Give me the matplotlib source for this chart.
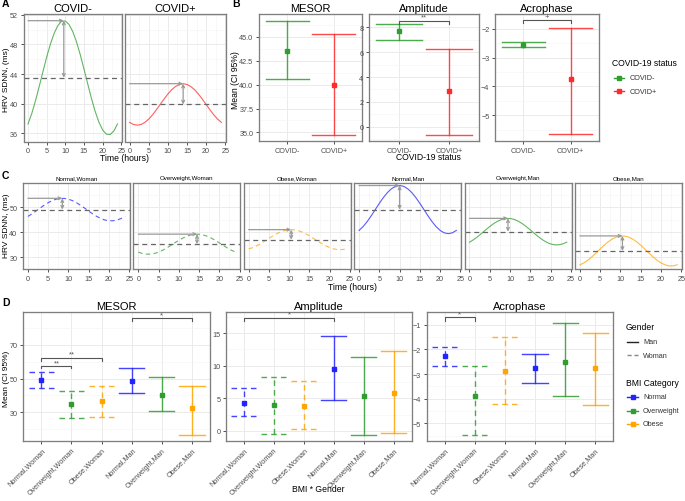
import matplotlib
matplotlib.use("Agg")
import matplotlib.pyplot as plt
from matplotlib.lines import Line2D
from matplotlib.ticker import MultipleLocator, FormatStrFormatter

# ---- panel A: fitted cosinor curves (hourly values)
hours = list(range(25))
covid_neg_curve = [37.27, 38.65, 40.37, 42.30, 44.30, 46.26, 48.03, 49.48, 50.53, 51.11,
                   51.16, 50.69, 49.73, 48.35, 46.63, 44.70, 42.70, 40.74, 38.97, 37.52,
                   36.47, 35.89, 35.84, 36.31, 37.27]
covid_pos_curve = [37.48, 37.20, 37.10, 37.20, 37.48, 37.92, 38.50, 39.18, 39.90, 40.62,
                   41.30, 41.88, 42.32, 42.60, 42.70, 42.60, 42.32, 41.88, 41.30, 40.62,
                   39.90, 39.18, 38.50, 37.92, 37.48]
covid_groups = ["COVID-", "COVID+"]
covid_mesor_line = [43.5, 39.9]
covid_peak = [51.2, 42.7]
covid_peak_time = [9.6, 14.0]

# ---- panel B: means and 95% CI
covid_mesor_mean = [43.5, 39.95]
covid_mesor_lo = [40.6, 34.7]
covid_mesor_hi = [46.7, 45.3]
covid_amp_mean = [7.7, 2.85]
covid_amp_lo = [6.95, -0.7]
covid_amp_hi = [8.3, 6.25]
covid_acro_mean = [-2.55, -3.74]
covid_acro_lo = [-2.63, -5.66]
covid_acro_hi = [-2.46, -1.97]

# ---- panel C: curves by BMI and gender
nw_curve = [46.26, 47.28, 48.41, 49.59, 50.72, 51.74, 52.57, 53.16, 53.46, 53.46, 53.16, 52.57,
            51.74, 50.72, 49.59, 48.41, 47.28, 46.26, 45.43, 44.84, 44.54, 44.54, 44.84, 45.43, 46.26]
ow_curve = [32.03, 31.50, 31.24, 31.24, 31.50, 32.03, 32.76, 33.67, 34.68, 35.72, 36.73, 37.64,
            38.37, 38.90, 39.16, 39.16, 38.90, 38.37, 37.64, 36.73, 35.72, 34.68, 33.67, 32.76, 32.03]
obw_curve = [33.30, 33.83, 34.56, 35.47, 36.48, 37.52, 38.53, 39.44, 40.17, 40.70, 40.96, 40.96,
             40.70, 40.17, 39.44, 38.53, 37.52, 36.48, 35.47, 34.56, 33.83, 33.30, 33.04, 33.04, 33.30]
nm_curve = [40.69, 42.21, 44.20, 46.51, 49.00, 51.49, 53.80, 55.79, 57.31, 58.27, 58.60, 58.27,
            57.31, 55.79, 53.80, 51.49, 49.00, 46.51, 44.20, 42.21, 40.69, 39.73, 39.40, 39.73, 40.69]
om_curve = [36.00, 36.97, 38.17, 39.51, 40.89, 42.23, 43.43, 44.40, 45.10, 45.45, 45.45, 45.10,
            44.40, 43.43, 42.23, 40.89, 39.51, 38.17, 36.97, 36.00, 35.30, 34.95, 34.95, 35.30, 36.00]
obm_curve = [26.96, 27.74, 28.85, 30.20, 31.71, 33.29, 34.80, 36.15, 37.26, 38.04, 38.45, 38.45,
             38.04, 37.26, 36.15, 34.80, 33.29, 31.71, 30.20, 28.85, 27.74, 26.96, 26.55, 26.55, 26.96]
bmi_groups = ["Normal,Woman", "Overweight,Woman", "Obese,Woman",
              "Normal,Man", "Overweight,Man", "Obese,Man"]
bmi_mesor_line = [49.0, 35.2, 37.0, 49.0, 40.2, 32.5]
bmi_peak = [53.5, 39.2, 41.0, 58.6, 45.5, 38.5]
bmi_peak_time = [8.5, 14.5, 10.5, 10.0, 9.5, 10.5]

# ---- panel D: means and 95% CI by BMI * gender
bmi_mesor_mean = [49.2, 34.9, 36.9, 48.8, 40.5, 32.6]
bmi_mesor_lo = [44.3, 26.4, 27.0, 41.7, 31.0, 16.4]
bmi_mesor_hi = [53.8, 42.9, 45.8, 56.2, 51.0, 45.8]
bmi_amp_mean = [4.35, 4.0, 3.8, 9.5, 5.3, 5.9]
bmi_amp_lo = [2.35, -0.46, 0.3, 4.8, -0.57, -0.36]
bmi_amp_hi = [6.6, 8.3, 7.6, 14.5, 11.3, 12.2]
bmi_acro_mean = [-2.28, -3.9, -2.87, -2.76, -2.5, -2.77]
bmi_acro_lo = [-2.69, -5.47, -4.21, -3.38, -3.87, -4.25]
bmi_acro_hi = [-1.89, -2.67, -1.51, -2.2, -0.93, -1.34]

GREEN = "#2e9e2e"
RED = "#ff2a2a"
BLUE = "#2323ff"
ORANGE = "#ffa500"
covid_colors = [GREEN, RED]
bmi_colors = [BLUE, GREEN, ORANGE, BLUE, GREEN, ORANGE]
bmi_styles = ["dashed"] * 3 + ["solid"] * 3
DASH = (0, (4, 3))

plt.rcParams["font.family"] = ["Liberation Sans", "DejaVu Sans"]

W, H = 685, 502
fig = plt.figure(figsize=(W / 100, H / 100), dpi=100)
fig.patch.set_facecolor("white")

TICK_FS = 5.2
LAB_FS = 6.2
TITLE_FS = 8


def px_axes(x0, y0, x1, y1):
    return fig.add_axes([x0 / W, 1 - y1 / H, (x1 - x0) / W, (y1 - y0) / H])


def ftext(x, y, s, **kw):
    kw.setdefault("ha", "center")
    kw.setdefault("va", "center")
    fig.text(x / W, 1 - y / H, s, **kw)


def style(ax):
    ax.set_facecolor("white")
    for s in ax.spines.values():
        s.set_color("#7f7f7f")
        s.set_linewidth(0.95)
    ax.grid(True, which="major", color="#ebebeb", lw=0.7)
    ax.grid(True, which="minor", color="#f4f4f4", lw=0.45)
    ax.set_axisbelow(True)
    ax.tick_params(which="major", length=2.5, width=0.6, color="#333333",
                   labelsize=TICK_FS, labelcolor="#4d4d4d", pad=1.5)
    ax.tick_params(which="minor", length=0)


def cosinor_panel(ax, curve, mesor, peak, tpk, color, ls, ylim, ymaj, ymin):
    style(ax)
    ax.plot(hours, curve, color=color, lw=0.8, alpha=0.75,
            ls=DASH if ls == "dashed" else "-")
    ax.axhline(mesor, color="#666666", lw=0.9, ls=DASH)
    ax.annotate("", xy=(tpk, peak), xytext=(0, peak),
                arrowprops=dict(arrowstyle="->", color="#9a9a9a", lw=0.9,
                                shrinkA=0, shrinkB=0, mutation_scale=5))
    ax.annotate("", xy=(tpk, mesor), xytext=(tpk, peak),
                arrowprops=dict(arrowstyle="<->", color="#9a9a9a", lw=0.9,
                                shrinkA=0, shrinkB=0, mutation_scale=5))
    ax.set_xlim(-1.2, 25.2)
    ax.set_ylim(*ylim)
    ax.xaxis.set_major_locator(MultipleLocator(5))
    ax.xaxis.set_minor_locator(MultipleLocator(2.5))
    ax.yaxis.set_major_locator(MultipleLocator(ymaj))
    ax.yaxis.set_minor_locator(MultipleLocator(ymin))


def ci_panel(ax, means, lo, hi, colors, styles, half):
    style(ax)
    for i, (m, a, b) in enumerate(zip(means, lo, hi)):
        x = i + 1
        ls = DASH if styles[i] == "dashed" else "-"
        ax.plot([x, x], [a, b], color=colors[i], lw=1.0, ls=ls, alpha=0.85)
        ax.plot([x - half, x + half], [a, a], color=colors[i], lw=1.0, ls=ls, alpha=0.85)
        ax.plot([x - half, x + half], [b, b], color=colors[i], lw=1.0, ls=ls, alpha=0.85)
        ax.plot([x], [m], "s", color=colors[i], ms=2.8)
    ax.set_xlim(0.4, len(means) + 0.6)
    ax.set_xticks(range(1, len(means) + 1))


def bracket(ax, x1, x2, y, d, label):
    ax.plot([x1, x1, x2, x2], [y - d, y, y, y - d], color="#555555", lw=0.8)
    ax.text((x1 + x2) / 2, y, label, ha="center", va="bottom", fontsize=5.5,
            color="#555555")


# ================= A =================
covid_curves = [covid_neg_curve, covid_pos_curve]
a_boxes = [(23.5, 15, 122, 142.5), (125, 15, 226, 142.5)]
for i, box in enumerate(a_boxes):
    ax = px_axes(*box)
    cosinor_panel(ax, covid_curves[i], covid_mesor_line[i], covid_peak[i],
                  covid_peak_time[i], covid_colors[i], "solid",
                  (34.9, 52.1), 4, 2)
    ax.set_title(covid_groups[i], fontsize=TITLE_FS, pad=2.5)
    if i > 0:
        ax.tick_params(axis="y", labelleft=False, length=0)
ftext(6, 80, "HRV SDNN, (ms)", rotation=90, fontsize=6)
ftext(125, 158.5, "Time (hours)", fontsize=LAB_FS)

# ================= B =================
b_boxes = [(259, 15, 362, 142), (369, 15, 479, 142), (495, 15, 599, 142)]
b_titles = ["MESOR", "Amplitude", "Acrophase"]
b_means = [covid_mesor_mean, covid_amp_mean, covid_acro_mean]
b_lo = [covid_mesor_lo, covid_amp_lo, covid_acro_lo]
b_hi = [covid_mesor_hi, covid_amp_hi, covid_acro_hi]
b_ylims = [(34.1, 47.4), (-1.16, 9.08), (-5.9, -1.48)]
b_ticks = [(2.5, 1.25), (2, 1), (1, 0.5)]
b_axes = []
for i, box in enumerate(b_boxes):
    ax = px_axes(*box)
    ci_panel(ax, b_means[i], b_lo[i], b_hi[i], covid_colors, ["solid", "solid"], 0.46)
    ax.set_ylim(*b_ylims[i])
    ax.yaxis.set_major_locator(MultipleLocator(b_ticks[i][0]))
    ax.yaxis.set_minor_locator(MultipleLocator(b_ticks[i][1]))
    ax.set_xticklabels(covid_groups)
    ax.set_title(b_titles[i], fontsize=TITLE_FS, pad=2.5)
    b_axes.append(ax)
b_axes[0].yaxis.set_major_formatter(FormatStrFormatter("%.1f"))
bracket(b_axes[1], 1, 2, 8.54, 0.27, "**")
bracket(b_axes[2], 1, 2, -1.69, 0.11, "+")
ftext(236, 80, "Mean (CI 95%)", rotation=90, fontsize=LAB_FS)
ftext(428, 158, "COVID-19 status", fontsize=LAB_FS)

ftext(612, 64, "COVID-19 status", fontsize=LAB_FS, ha="left")
for i, g in enumerate(covid_groups):
    y = 1 - (79 + 13 * i) / H
    fig.add_artist(Line2D([614 / W, 624 / W], [y, y], color=covid_colors[i], lw=1.0))
    fig.add_artist(Line2D([619 / W], [y], marker="s", ms=2.5, color=covid_colors[i]))
    ftext(630, 79 + 13 * i, g, fontsize=5.2, ha="left", color="#333333")

# ================= C =================
bmi_curves = [nw_curve, ow_curve, obw_curve, nm_curve, om_curve, obm_curve]
c_axes = []
for i in range(6):
    x0 = 23 + 110.4 * i
    ax = px_axes(x0, 183.5, x0 + 107, 270)
    cosinor_panel(ax, bmi_curves[i], bmi_mesor_line[i], bmi_peak[i],
                  bmi_peak_time[i], bmi_colors[i], bmi_styles[i],
                  (25.3, 59.8), 10, 5)
    ax.set_yticks([30, 40, 50])
    ax.set_title(bmi_groups[i], fontsize=4.4, pad=2.5)
    if i > 0:
        ax.tick_params(axis="y", labelleft=False, length=0)
    c_axes.append(ax)
ftext(6, 226, "HRV SDNN, (ms)", rotation=90, fontsize=6)
ftext(353, 288, "Time (hours)", fontsize=LAB_FS)

# ================= D =================
d_boxes = [(23.3, 313.3, 210, 441.7), (226, 313.3, 411.7, 441.7), (426.7, 313.3, 613.3, 441.7)]
d_means = [bmi_mesor_mean, bmi_amp_mean, bmi_acro_mean]
d_lo = [bmi_mesor_lo, bmi_amp_lo, bmi_acro_lo]
d_hi = [bmi_mesor_hi, bmi_amp_hi, bmi_acro_hi]
d_ylims = [(13.1, 89.4), (-1.49, 18.2), (-5.7, -0.5)]
d_ticks = [(20, 10), (5, 2.5), (1, 0.5)]
d_axes = []
for i, box in enumerate(d_boxes):
    ax = px_axes(*box)
    ci_panel(ax, d_means[i], d_lo[i], d_hi[i], bmi_colors, bmi_styles, 0.42)
    ax.set_ylim(*d_ylims[i])
    ax.yaxis.set_major_locator(MultipleLocator(d_ticks[i][0]))
    ax.yaxis.set_minor_locator(MultipleLocator(d_ticks[i][1]))
    ax.set_xticklabels(bmi_groups, rotation=45, ha="right", rotation_mode="anchor",
                       fontsize=5.2)
    ax.set_title(b_titles[i], fontsize=TITLE_FS, pad=2.5)
    d_axes.append(ax)
d_axes[0].set_yticks([30, 50, 70])
bracket(d_axes[0], 1, 2, 57.3, 1.2, "**")
bracket(d_axes[0], 1, 3, 62.5, 1.8, "**")
bracket(d_axes[0], 4, 6, 86.0, 1.8, "*")
bracket(d_axes[1], 1, 4, 17.4, 0.55, "*")
bracket(d_axes[2], 1, 2, -0.7, 0.14, "*")
ftext(6, 379, "Mean (CI 95%)", rotation=90, fontsize=6)
ftext(318, 490, "BMI * Gender", fontsize=LAB_FS)

ftext(626, 328, "Gender", fontsize=LAB_FS, ha="left")
gender_labels = ["Man", "Woman"]
gender_styles = ["-", (0, (3, 2))]
gender_colors = ["#222222", "#888888"]
for i, g in enumerate(gender_labels):
    yp = 343 + 13 * i
    fig.add_artist(Line2D([627 / W, 638 / W], [1 - yp / H] * 2, color=gender_colors[i],
                          lw=1.0, ls=gender_styles[i]))
    ftext(643, yp, g, fontsize=5.2, ha="left", color="#333333")
ftext(626, 384, "BMI Category", fontsize=LAB_FS, ha="left")
bmi_levels = ["Normal", "Overweight", "Obese"]
for i, g in enumerate(bmi_levels):
    yp = 398 + 13.5 * i
    fig.add_artist(Line2D([627 / W, 638 / W], [1 - yp / H] * 2, color=bmi_colors[i], lw=1.0))
    fig.add_artist(Line2D([632.5 / W], [1 - yp / H], marker="s", ms=2.5, color=bmi_colors[i]))
    ftext(643, yp, g, fontsize=5.2, ha="left", color="#333333")

# panel letters
for letter, (x, y) in zip("ABCD", [(2, 4), (232, 4), (2, 176), (2, 303)]):
    ftext(x, y, letter, fontsize=7.5, fontweight="bold", ha="left")

fig.savefig("out.png", dpi=100, facecolor="white")
